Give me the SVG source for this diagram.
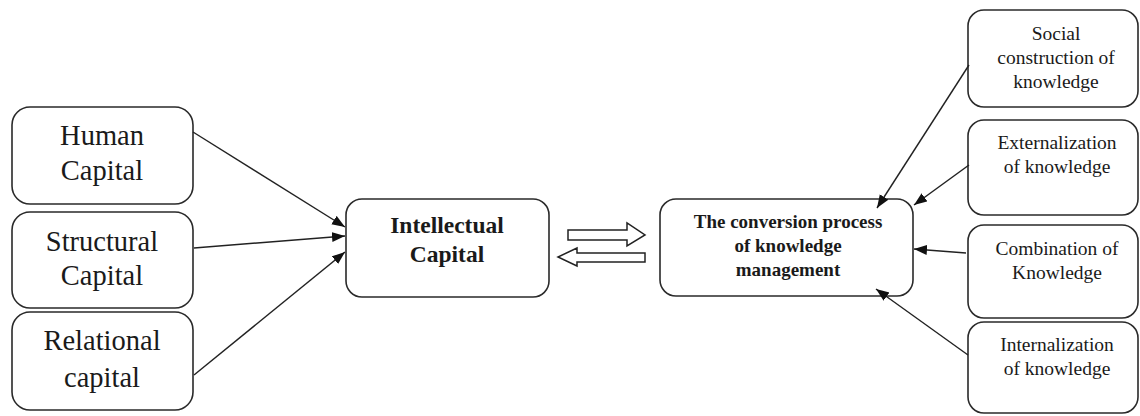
<svg xmlns="http://www.w3.org/2000/svg" width="1140" height="416" viewBox="0 0 1140 416">
<style>
.box{fill:#fff;stroke:#2a2a2a;stroke-width:1.6}
.t{font-family:"Liberation Serif","DejaVu Serif","Noto Serif",serif;fill:#1a1a1a;text-anchor:middle}
.l{font-size:28.5px}
.b{font-weight:bold}
.r{font-size:19.5px}
.con{stroke:#222;stroke-width:1.4;fill:none;marker-end:url(#ah)}
.blk{fill:#fff;stroke:#222;stroke-width:1.5}
</style>
<defs>
<marker id="ah" markerUnits="userSpaceOnUse" markerWidth="14" markerHeight="12" refX="13" refY="5" orient="auto">
<path d="M0,0 L13,5 L0,10 Z" fill="#111"/>
</marker>
</defs>
<rect width="1140" height="416" fill="#fff"/>
<g id="human">
<rect class="box" x="12" y="107" width="181" height="97" rx="18"/>
<text class="t l" x="102" y="145">Human</text>
<text class="t l" x="102" y="180">Capital</text>
</g>
<g id="structural">
<rect class="box" x="12" y="212" width="181" height="96" rx="18"/>
<text class="t l" x="102" y="251">Structural</text>
<text class="t l" x="102" y="285">Capital</text>
</g>
<g id="relational">
<rect class="box" x="12" y="312" width="181" height="98" rx="18"/>
<text class="t l" x="102" y="350">Relational</text>
<text class="t l" x="102" y="387">capital</text>
</g>
<g id="intellectual">
<rect class="box" x="346" y="199" width="203" height="98" rx="16"/>
<text class="t b" style="font-size:23.5px" x="447" y="233">Intellectual</text>
<text class="t b" style="font-size:23.5px" x="447" y="262">Capital</text>
</g>
<g id="conversion">
<rect class="box" x="660" y="199" width="253" height="97" rx="16"/>
<text class="t b" style="font-size:19px" x="788" y="228">The conversion process</text>
<text class="t b" style="font-size:19px" x="788" y="252">of knowledge</text>
<text class="t b" style="font-size:19px" x="788" y="276">management</text>
</g>
<g id="social">
<rect class="box" x="968" y="10" width="170" height="97" rx="16"/>
<text class="t r" x="1056" y="40">Social</text>
<text class="t r" x="1056" y="64">construction of</text>
<text class="t r" x="1056" y="88">knowledge</text>
</g>
<g id="externalization">
<rect class="box" x="968" y="120" width="170" height="95" rx="16"/>
<text class="t r" x="1057" y="149">Externalization</text>
<text class="t r" x="1057" y="173">of knowledge</text>
</g>
<g id="combination">
<rect class="box" x="968" y="225" width="170" height="93" rx="16"/>
<text class="t r" x="1057" y="255">Combination of</text>
<text class="t r" x="1057" y="279">Knowledge</text>
</g>
<g id="internalization">
<rect class="box" x="968" y="322" width="170" height="91" rx="16"/>
<text class="t r" x="1057" y="351">Internalization</text>
<text class="t r" x="1057" y="375">of knowledge</text>
</g>
<g id="connectors">
<line class="con" x1="193" y1="132" x2="345" y2="227"/>
<line class="con" x1="194" y1="248" x2="345" y2="236"/>
<line class="con" x1="194" y1="375" x2="345" y2="252"/>
<line class="con" x1="969" y1="65" x2="877" y2="208"/>
<line class="con" x1="969" y1="165" x2="914" y2="205"/>
<line class="con" x1="966" y1="253" x2="914" y2="249"/>
<line class="con" x1="968" y1="355" x2="876" y2="289"/>
<polygon class="blk" points="568,230 627,230 627,223 645,235 627,246 627,240 568,240"/>
<polygon class="blk" points="645,253 577,253 577,248 558,257 577,266 577,262 645,262"/>
</g>
</svg>
